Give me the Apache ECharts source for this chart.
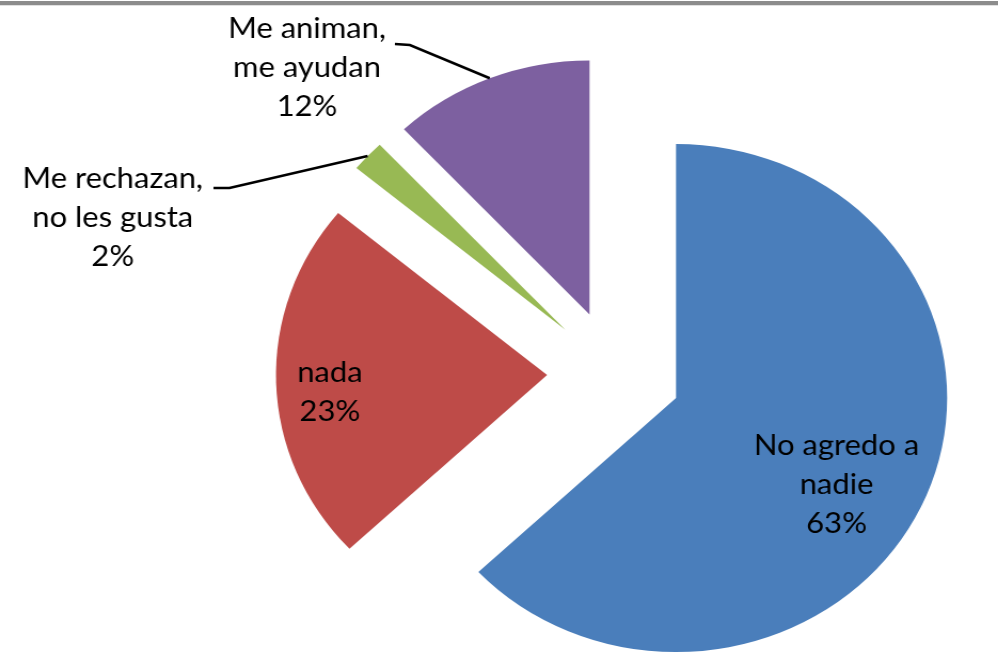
<!DOCTYPE html>
<html><head><meta charset="utf-8">
<script src="https://cdn.jsdelivr.net/npm/echarts@6/dist/echarts.min.js"></script>
<style>
html,body{margin:0;padding:0;background:#fff;overflow:hidden}
#chart{width:935px;height:653px;transform:scaleX(1.0674);transform-origin:0 0}
</style>
</head><body><div id="chart"></div>
<script>
// ---- data ----
const categories = ['No agredo a\nnadie', 'nada', 'Me rechazan,\nno les gusta', 'Me animan,\nme ayudan'];
const percentages = [63, 23, 2, 12];

// ---- styles / layout ----
const colors = ['#4A7EBB', '#BE4B48', '#98B954', '#7D60A0'];
const CENTER = [575.5, 373], RADIUS = 254, OFFSET = 63;
const labelCenters = [[783.7, 485], [309, 392], [105.6, 218], [287.6, 68]];
const leaderStarts = [null, null, [[200, 188], [215, 188]], [[370, 44], [384, 45]]];

function arcMid(i) {
  const total = percentages.reduce((a, b) => a + b, 0);
  let before = 0;
  for (let k = 0; k < i; k++) before += percentages[k];
  const mid = (before + percentages[i] / 2) / total * 2 * Math.PI;
  return [CENTER[0] + (RADIUS + OFFSET) * Math.sin(mid), CENTER[1] - (RADIUS + OFFSET) * Math.cos(mid)];
}

const chart = echarts.init(document.getElementById('chart'), null, {renderer: 'canvas'});
chart.setOption({
  animation: false,
  backgroundColor: '#fff',
  graphic: [
    {type: 'rect', left: 0, top: 1, shape: {width: 935, height: 4}, style: {fill: '#8c8c8c'}},
    {type: 'rect', left: 0, top: 5, shape: {width: 935, height: 1}, style: {fill: '#e0e0e0'}}
  ],
  series: [
    { // exploded slices
      type: 'pie',
      center: CENTER,
      radius: RADIUS,
      startAngle: 90,
      clockwise: true,
      selectedMode: 'multiple',
      selectedOffset: OFFSET,
      emphasis: {disabled: true},
      label: {show: false},
      labelLine: {show: false},
      data: categories.map((n, i) => ({
        name: n, value: percentages[i], selected: true, itemStyle: {color: colors[i]}
      }))
    },
    { // labels with leader lines
      type: 'pie',
      z: 5,
      silent: true,
      center: CENTER,
      radius: RADIUS,
      startAngle: 90,
      clockwise: true,
      avoidLabelOverlap: false,
      minShowLabelAngle: 0,
      emphasis: {disabled: true},
      itemStyle: {color: 'rgba(0,0,0,0)'},
      data: categories.map((n, i) => ({
        name: n,
        value: percentages[i],
        label: {position: i < 2 ? 'inside' : 'outside'},
        labelLine: {show: i >= 2}
      })),
      label: {
        show: true,
        formatter: p => p.name + '\n' + p.value + '%',
        fontFamily: 'Lato',
        fontSize: 29,
        lineHeight: 39,
        color: '#000',
        align: 'center'
      },
      labelLine: {show: true, lineStyle: {color: '#000', width: 2.5}},
      labelLayout: function (p) {
        const i = p.dataIndex;
        const out = {x: labelCenters[i][0], y: labelCenters[i][1], align: 'center', verticalAlign: 'middle'};
        if (leaderStarts[i]) {
          out.labelLinePoints = [arcMid(i), leaderStarts[i][1], leaderStarts[i][0]];
        }
        return out;
      }
    }
  ]
});
</script>
</body></html>
